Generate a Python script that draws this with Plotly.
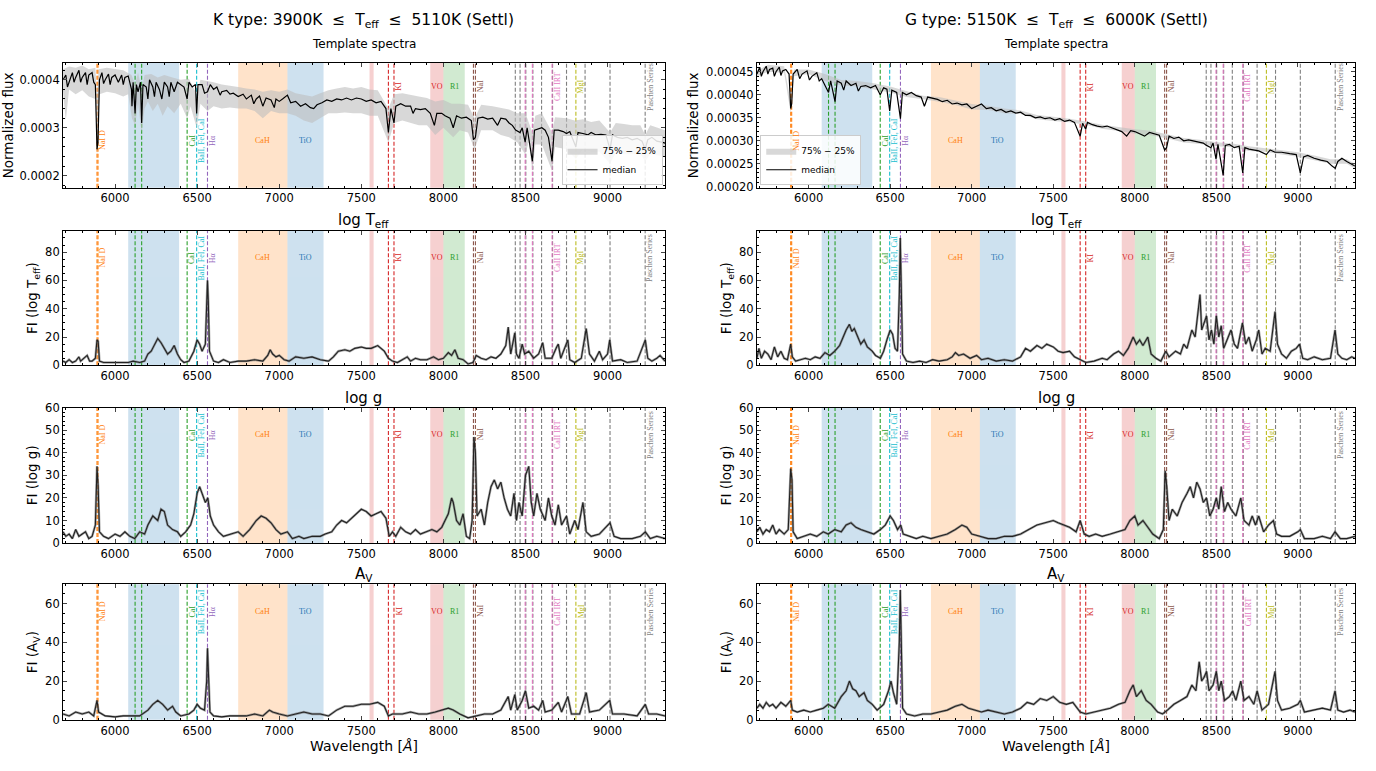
import plotly.graph_objects as go
from plotly.subplots import make_subplots

# ---------------- data (flux values in units of 1e-4) ----------------
K_MEDIAN = [(5683,4.00),(5700,4.10),(5710,3.85),(5720,3.95),(5740,4.15),(5750,3.95),(5760,4.05),(5780,4.20),
(5790,3.95),(5800,4.05),(5820,4.15),(5830,3.90),(5840,4.10),(5860,4.15),(5870,3.95),(5880,3.90),(5890,2.55),
(5896,2.70),(5905,4.00),(5920,4.15),(5930,3.92),(5940,4.00),(5960,4.12),(5970,3.90),(5980,4.05),(6000,4.10),
(6020,3.95),(6040,4.10),(6050,3.90),(6060,4.05),(6080,4.08),(6100,3.80),(6103,3.45),(6110,3.95),
(6122,3.30),(6130,3.90),(6140,3.75),(6155,3.95),(6162,3.10),(6170,3.90),(6190,3.85),(6200,3.60),(6210,4.00),
(6230,3.85),(6240,3.65),(6250,3.95),(6270,3.80),(6285,3.60),(6300,3.95),(6320,3.85),(6330,3.65),(6340,3.95),
(6360,3.75),(6380,3.95),(6400,3.90),(6420,3.85),(6439,3.60),(6450,3.95),(6470,3.85),(6490,3.90),(6497,3.30),
(6505,3.90),(6530,3.90),(6545,3.72),(6563,3.75),(6580,3.90),(6600,3.80),(6620,3.85),(6640,3.68),(6650,3.75),
(6680,3.78),(6700,3.70),(6720,3.72),(6750,3.65),(6780,3.70),(6800,3.60),(6830,3.68),(6845,3.50),(6860,3.60),
(6880,3.66),(6900,3.45),(6920,3.62),(6950,3.58),(6970,3.42),(6980,3.60),(7000,3.55),(7020,3.60),(7050,3.68),
(7070,3.52),(7100,3.55),(7130,3.45),(7160,3.50),(7190,3.42),(7210,3.40),(7230,3.48),(7260,3.52),(7290,3.58),
(7320,3.55),(7350,3.60),(7380,3.58),(7410,3.62),(7440,3.58),(7470,3.62),(7500,3.60),(7530,3.55),(7560,3.58),
(7590,3.52),(7620,3.55),(7650,3.40),(7665,2.90),(7680,3.40),(7699,3.10),(7710,3.45),(7740,3.50),(7770,3.45),
(7800,3.45),(7815,3.30),(7830,3.40),(7860,3.38),(7890,3.40),(7920,3.30),(7945,3.05),(7960,3.30),(7990,3.30),
(8010,3.25),(8040,3.20),(8060,3.00),(8080,3.25),(8110,3.20),(8140,3.22),(8170,3.15),(8183,2.75),(8195,2.80),
(8210,3.20),(8240,3.22),(8270,3.18),(8300,3.20),(8330,3.05),(8350,3.20),(8380,3.18),(8400,3.10),(8420,3.05),
(8440,2.95),(8467,2.90),(8480,3.00),(8498,2.70),(8510,3.00),(8542,2.30),(8555,2.95),(8580,2.98),(8600,3.00),
(8620,2.95),(8640,2.80),(8662,2.30),(8675,2.95),(8700,2.95),(8730,2.92),(8750,2.88),(8770,2.92),(8807,2.60),
(8820,2.90),(8850,2.88),(8880,2.85),(8900,2.90),(8930,2.85),(8960,2.86),(8990,2.85),(9015,2.55),(9030,2.85),
(9060,2.80),(9090,2.78),(9120,2.80),(9150,2.75),(9180,2.78),(9210,2.72),(9229,2.55),(9245,2.75),(9270,2.80),
(9300,2.72),(9330,2.70),(9350,2.68)]

K_Q75 = [(5683,4.22),(5720,4.28),(5760,4.25),(5800,4.30),(5840,4.22),(5880,4.25),(5890,3.60),(5900,4.22),
(5950,4.25),(6000,4.22),(6050,4.20),(6100,4.10),(6122,3.90),(6140,4.15),(6162,3.80),(6180,4.10),(6220,4.12),
(6260,4.05),(6300,4.10),(6350,4.05),(6400,4.00),(6450,4.02),(6497,3.70),(6520,4.00),(6600,3.95),(6650,3.90),
(6700,3.88),(6750,3.85),(6800,3.82),(6850,3.80),(6900,3.75),(6950,3.78),(7000,3.75),(7050,3.80),(7100,3.72),
(7150,3.68),(7200,3.65),(7250,3.72),(7300,3.78),(7350,3.82),(7400,3.85),(7450,3.82),(7500,3.85),(7550,3.80),
(7600,3.78),(7665,3.40),(7700,3.70),(7750,3.72),(7800,3.68),(7850,3.65),(7900,3.62),(7950,3.55),(8000,3.58),
(8050,3.50),(8100,3.50),(8150,3.48),(8190,3.20),(8230,3.48),(8300,3.45),(8350,3.42),(8400,3.38),(8450,3.30),
(8500,3.30),(8542,2.90),(8560,3.25),(8600,3.30),(8662,2.90),(8680,3.22),(8750,3.20),(8800,3.15),(8850,3.18),
(8900,3.12),(8950,3.15),(9015,2.90),(9050,3.10),(9100,3.08),(9150,3.05),(9200,3.05),(9229,2.85),(9260,3.05),
(9300,3.00),(9350,2.95)]

K_Q25 = [(5683,3.75),(5700,3.15),(5720,3.80),(5760,3.70),(5800,3.78),(5840,3.65),(5880,3.60),(5890,2.40),
(5905,3.70),(5950,3.75),(6000,3.72),(6050,3.65),(6080,3.70),(6103,3.20),(6122,3.05),(6140,3.50),(6162,2.90),
(6180,3.40),(6200,3.55),(6230,3.35),(6260,3.50),(6290,3.25),(6320,3.45),(6360,3.30),(6400,3.50),(6439,3.20),
(6460,3.45),(6497,3.00),(6520,3.50),(6563,3.35),(6600,3.45),(6650,3.40),(6700,3.42),(6750,3.40),(6800,3.40),
(6850,3.35),(6900,3.20),(6950,3.35),(7000,3.30),(7050,3.30),(7100,3.25),(7150,3.15),(7200,3.10),(7250,3.20),
(7300,3.30),(7350,3.30),(7400,3.32),(7450,3.30),(7500,3.30),(7550,3.25),(7600,3.25),(7665,2.70),(7700,3.10),
(7750,3.15),(7800,3.10),(7850,3.05),(7900,3.05),(7950,2.85),(8000,3.00),(8060,2.80),(8100,2.95),(8150,2.90),
(8190,2.55),(8230,2.95),(8300,2.95),(8350,2.85),(8400,2.80),(8450,2.70),(8498,2.45),(8520,2.70),(8542,2.10),
(8560,2.65),(8600,2.65),(8662,2.10),(8680,2.60),(8750,2.55),(8807,2.35),(8850,2.55),(8900,2.50),(8950,2.50),
(9015,2.25),(9050,2.48),(9100,2.45),(9150,2.45),(9200,2.45),(9229,2.30),(9260,2.45),(9300,2.42),(9350,2.40)]

G_MEDIAN = [(5683,4.45),(5700,4.60),(5710,4.40),(5720,4.50),(5740,4.62),(5750,4.45),(5760,4.55),(5780,4.58),
(5790,4.40),(5800,4.50),(5820,4.60),(5830,4.42),(5840,4.52),(5860,4.55),(5880,4.45),(5890,3.70),(5896,3.80),
(5905,4.45),(5930,4.55),(5945,4.35),(5960,4.45),(5990,4.52),(6005,4.32),(6020,4.40),(6050,4.48),(6065,4.30),
(6080,4.35),(6103,4.20),(6122,4.05),(6135,4.30),(6162,3.85),(6175,4.30),(6200,4.25),(6215,4.10),(6230,4.30),
(6260,4.20),(6290,4.25),(6305,4.08),(6320,4.18),(6350,4.20),(6380,4.15),(6410,4.20),(6439,4.00),(6460,4.15),
(6480,4.12),(6497,3.65),(6510,4.10),(6540,4.05),(6563,3.48),(6575,4.05),(6600,4.00),(6630,4.05),(6660,3.98),
(6690,3.95),(6710,3.75),(6730,3.95),(6760,3.92),(6790,3.90),(6820,3.85),(6850,3.88),(6880,3.80),(6910,3.82),
(6940,3.78),(6970,3.80),(7000,3.70),(7030,3.75),(7060,3.80),(7090,3.70),(7120,3.72),(7150,3.65),(7180,3.68),
(7210,3.62),(7240,3.65),(7270,3.60),(7300,3.62),(7330,3.55),(7360,3.55),(7390,3.50),(7420,3.52),(7450,3.48),
(7480,3.50),(7510,3.45),(7540,3.48),(7570,3.42),(7600,3.45),(7630,3.40),(7665,3.10),(7680,3.38),(7699,3.25),
(7710,3.40),(7740,3.35),(7770,3.32),(7800,3.30),(7830,3.32),(7860,3.28),(7890,3.25),(7920,3.20),(7950,3.10),
(7975,3.22),(8000,3.20),(8030,3.15),(8060,3.10),(8090,3.18),(8120,3.15),(8150,3.12),(8183,2.80),(8195,2.85),
(8210,3.10),(8240,3.05),(8270,3.08),(8300,3.00),(8330,3.02),(8360,3.00),(8390,2.98),(8420,2.95),(8440,2.90),
(8467,2.85),(8480,2.95),(8498,2.60),(8510,2.92),(8542,2.25),(8555,2.90),(8580,2.92),(8610,2.85),(8640,2.88),
(8662,2.30),(8675,2.85),(8700,2.82),(8730,2.80),(8760,2.78),(8807,2.70),(8830,2.80),(8860,2.75),(8900,2.75),
(8950,2.72),(8990,2.70),(9015,2.30),(9035,2.65),(9060,2.68),(9100,2.62),(9140,2.58),(9180,2.55),(9210,2.45),
(9229,2.40),(9245,2.55),(9270,2.62),(9300,2.55),(9330,2.50),(9350,2.45)]

G_Q75 = [(5683,4.52),(5750,4.65),(5850,4.62),(5890,3.85),(5910,4.55),(6000,4.55),(6100,4.45),(6200,4.32),
(6300,4.30),(6400,4.25),(6500,4.18),(6600,4.08),(6700,3.98),(6800,3.95),(6900,3.88),(7000,3.80),(7100,3.76),
(7200,3.70),(7300,3.66),(7400,3.56),(7500,3.52),(7600,3.48),(7700,3.42),(7800,3.35),(7900,3.30),(8000,3.25),
(8100,3.22),(8200,3.14),(8300,3.06),(8400,3.02),(8500,2.97),(8600,2.94),(8700,2.88),(8800,2.84),(8900,2.80),
(9000,2.75),(9100,2.68),(9200,2.60),(9300,2.60),(9350,2.50)]

G_Q25 = [(5683,4.40),(5750,4.50),(5850,4.48),(5890,3.60),(5910,4.40),(6000,4.45),(6100,4.30),(6200,4.20),
(6300,4.18),(6400,4.12),(6500,4.05),(6600,3.95),(6700,3.90),(6800,3.85),(6900,3.78),(7000,3.68),(7100,3.67),
(7200,3.60),(7300,3.58),(7400,3.47),(7500,3.43),(7600,3.40),(7700,3.35),(7800,3.26),(7900,3.21),(8000,3.15),
(8100,3.12),(8200,3.05),(8300,2.96),(8400,2.93),(8500,2.88),(8600,2.86),(8700,2.78),(8800,2.76),(8900,2.70),
(9000,2.65),(9100,2.58),(9200,2.50),(9300,2.50),(9350,2.40)]

K_FI_TEFF = [(5683,3),(5700,2),(5720,4),(5740,2),(5760,3),(5780,6),(5790,3),(5810,5),(5830,7),(5845,3),(5860,3),
(5880,5),(5890,18),(5897,17),(5905,3),(5930,2),(5960,2),(6000,1.5),(6040,2),(6080,2),(6110,3),(6150,2),(6180,3),
(6200,8),(6220,10),(6240,14),(6260,19),(6280,16),(6300,12),(6320,8),(6340,10),(6360,14),(6380,8),(6400,4),
(6420,2),(6450,3),(6480,10),(6500,18),(6515,15),(6530,10),(6550,15),(6558,40),(6563,60),(6568,45),(6575,10),
(6600,3),(6630,2),(6660,4),(6700,2),(6750,3),(6800,3),(6850,4),(6900,3),(6930,7),(6945,11),(6960,8),(6980,6),
(7000,7),(7030,4),(7060,3),(7100,6),(7150,5),(7200,6),(7250,4),(7300,3),(7330,6),(7360,10),(7400,11),(7430,10),
(7460,12),(7500,13),(7530,12),(7560,12),(7600,14),(7640,10),(7665,5),(7690,3),(7720,2),(7750,4),(7780,6),
(7800,3),(7830,5),(7860,4),(7900,4),(7940,6),(7970,4),(8000,5),(8030,9),(8050,7),(8070,11),(8090,5),(8120,4),
(8150,1),(8180,2),(8200,7),(8230,5),(8260,4),(8290,6),(8320,5),(8350,8),(8380,14),(8395,27),(8410,8),(8425,18),
(8435,23),(8445,8),(8460,5),(8480,15),(8495,8),(8520,10),(8550,5),(8580,8),(8605,16),(8620,5),(8660,5),
(8690,13),(8700,15),(8715,5),(8740,13),(8758,18),(8770,4),(8800,2),(8840,5),(8870,26),(8890,8),(8920,3),
(8950,10),(8970,4),(9000,8),(9013,18),(9030,3),(9080,4),(9120,2),(9180,3),(9230,18),(9245,5),(9270,3),
(9300,5),(9320,7),(9350,3)]

K_FI_LOGG = [(5683,5),(5700,3),(5720,4),(5740,2),(5760,6),(5780,3),(5800,4),(5820,5),(5840,2),(5860,3),(5880,8),
(5890,34),(5897,25),(5905,5),(5930,3),(5960,2),(6000,4),(6030,3),(6060,5),(6090,3),(6120,2),(6150,5),(6180,4),
(6200,8),(6230,12),(6260,10),(6280,15),(6300,14),(6320,8),(6350,6),(6380,5),(6400,3),(6430,5),(6460,8),
(6480,13),(6500,22),(6515,25),(6530,22),(6550,18),(6565,20),(6580,12),(6600,8),(6630,5),(6660,3),(6700,4),
(6750,5),(6780,3),(6820,6),(6860,10),(6890,12),(6920,11),(6950,9),(6980,6),(7010,4),(7050,5),(7080,2),
(7120,3),(7150,2),(7200,3),(7250,3),(7280,4),(7320,5),(7350,8),(7380,10),(7410,9),(7440,11),(7470,13),
(7500,15),(7530,14),(7560,12),(7590,13),(7620,14),(7650,11),(7670,3),(7690,5),(7710,3),(7740,7),(7770,5),
(7800,4),(7830,6),(7860,4),(7900,5),(7930,6),(7960,5),(7990,7),(8010,10),(8030,13),(8050,20),(8060,18),
(8080,10),(8100,8),(8120,13),(8140,3),(8160,2),(8175,10),(8186,47),(8195,40),(8205,12),(8230,15),(8250,8),
(8270,18),(8290,25),(8310,28),(8330,24),(8350,27),(8370,20),(8390,15),(8410,12),(8430,22),(8445,10),(8460,18),
(8480,12),(8500,30),(8520,34),(8535,18),(8550,12),(8570,22),(8590,15),(8620,10),(8640,20),(8660,12),(8680,8),
(8700,17),(8720,8),(8750,12),(8770,4),(8800,10),(8820,6),(8850,18),(8870,5),(8900,3),(8950,4),(9000,8),
(9015,9),(9040,3),(9080,2),(9150,2),(9200,3),(9230,5),(9260,2),(9300,3),(9350,2)]

K_FI_AV = [(5683,3),(5720,2),(5760,4),(5800,3),(5840,4),(5870,2),(5890,10),(5900,4),(5940,2),(6000,1.5),
(6050,2),(6100,2),(6150,2),(6200,5),(6230,8),(6260,10),(6290,8),(6320,5),(6350,7),(6370,4),(6400,2),(6450,3),
(6480,5),(6500,8),(6520,6),(6545,5),(6558,20),(6563,37),(6568,25),(6578,4),(6600,2),(6650,1.5),(6700,2),
(6750,2),(6800,2),(6850,3),(6900,2),(6940,5),(6960,4),(7000,3),(7050,2),(7100,3),(7150,4),(7200,3),(7250,3),
(7300,2),(7350,5),(7400,7),(7450,7),(7500,8),(7550,8),(7600,9),(7640,7),(7665,2),(7690,3),(7750,3),(7800,4),
(7850,3),(7900,3),(7950,4),(8000,5),(8030,6),(8060,5),(8100,3),(8150,1),(8200,2),(8250,3),(8300,3),(8350,5),
(8395,12),(8410,5),(8435,13),(8450,5),(8480,10),(8500,15),(8520,6),(8550,7),(8580,5),(8605,10),(8620,4),
(8660,5),(8700,9),(8720,4),(8758,12),(8780,3),(8830,3),(8870,14),(8890,4),(8950,5),(9013,10),(9030,3),
(9100,3),(9180,2),(9230,8),(9250,3),(9300,3),(9350,2)]

G_FI_TEFF = [(5683,5),(5695,12),(5710,5),(5730,10),(5750,8),(5770,4),(5790,13),(5810,6),(5830,10),(5850,5),
(5870,4),(5890,15),(5900,6),(5920,3),(5950,4),(5980,5),(6010,4),(6040,6),(6070,5),(6100,9),(6130,7),(6160,10),
(6190,14),(6210,20),(6230,25),(6250,29),(6265,24),(6280,26),(6300,20),(6320,15),(6340,18),(6360,13),(6390,10),
(6410,7),(6440,5),(6460,10),(6480,18),(6500,25),(6515,22),(6530,12),(6545,10),(6556,50),(6562,90),(6568,60),
(6576,8),(6600,3),(6640,2),(6680,3),(6720,2),(6760,4),(6800,3),(6850,4),(6880,6),(6900,9),(6920,7),(6950,8),
(6990,5),(7030,7),(7060,4),(7100,5),(7150,3),(7200,4),(7250,3),(7300,6),(7330,12),(7360,10),(7400,14),
(7430,12),(7460,15),(7500,13),(7530,10),(7560,9),(7600,10),(7630,6),(7665,4),(7700,2),(7750,3),(7800,5),
(7830,4),(7870,8),(7900,10),(7930,7),(7960,12),(7990,20),(8010,15),(8030,18),(8050,14),(8080,20),(8100,8),
(8130,5),(8160,3),(8190,10),(8210,6),(8250,10),(8280,8),(8300,15),(8320,12),(8350,25),(8370,20),(8385,35),
(8400,50),(8410,25),(8425,30),(8440,35),(8455,18),(8470,25),(8485,15),(8500,35),(8515,20),(8530,28),(8545,12),
(8570,20),(8590,25),(8610,15),(8630,12),(8660,30),(8680,15),(8700,20),(8720,10),(8745,18),(8760,25),(8780,8),
(8800,12),(8830,10),(8860,38),(8875,15),(8900,8),(8930,5),(8960,10),(8990,12),(9010,15),(9030,5),(9060,4),
(9100,6),(9150,4),(9200,5),(9228,25),(9245,8),(9270,5),(9300,4),(9330,6),(9350,5)]

G_FI_LOGG = [(5683,5),(5700,7),(5720,4),(5740,6),(5760,5),(5780,8),(5800,4),(5820,6),(5850,4),(5875,6),(5890,33),
(5898,28),(5905,5),(5930,2),(5970,3),(6010,4),(6050,3),(6090,5),(6120,4),(6160,6),(6200,5),(6230,8),(6260,9),
(6290,7),(6320,6),(6360,5),(6400,4),(6440,6),(6470,8),(6500,12),(6520,10),(6545,6),(6565,8),(6580,4),(6620,3),
(6660,2),(6700,3),(6750,2),(6800,3),(6850,4),(6900,6),(6940,8),(6970,7),(7000,4),(7050,3),(7100,2),(7150,2),
(7200,3),(7250,3),(7300,4),(7350,6),(7400,8),(7450,9),(7500,10),(7530,9),(7570,8),(7600,7),(7640,5),(7665,10),
(7690,4),(7720,3),(7760,4),(7800,3),(7850,4),(7900,5),(7940,6),(7970,10),(8000,12),(8020,8),(8050,10),(8080,7),
(8110,4),(8150,2),(8175,6),(8186,32),(8196,25),(8210,10),(8230,15),(8260,12),(8290,18),(8320,22),(8340,25),
(8360,20),(8380,27),(8400,24),(8420,18),(8440,20),(8460,12),(8480,15),(8500,20),(8515,15),(8530,25),(8550,14),
(8570,18),(8590,15),(8620,12),(8650,20),(8670,10),(8700,8),(8720,12),(8740,8),(8760,12),(8790,5),(8820,8),
(8850,10),(8870,4),(8900,3),(8950,3),(9000,5),(9015,6),(9040,2),(9100,2),(9150,3),(9200,2),(9228,5),(9260,2),
(9300,2),(9350,3)]

G_FI_AV = [(5683,6),(5700,8),(5720,6),(5740,9),(5760,7),(5780,8),(5800,6),(5830,9),(5860,7),(5890,10),(5900,5),
(5930,4),(5970,5),(6010,4),(6050,5),(6090,6),(6120,8),(6160,6),(6200,12),(6230,15),(6250,20),(6270,16),
(6290,15),(6310,12),(6340,14),(6360,10),(6390,8),(6420,5),(6460,8),(6490,15),(6505,20),(6520,14),(6540,8),
(6556,40),(6562,67),(6568,45),(6576,6),(6600,3),(6650,2),(6700,3),(6750,3),(6800,4),(6850,5),(6900,7),
(6940,8),(6980,6),(7020,5),(7060,4),(7100,5),(7150,4),(7200,3),(7250,4),(7300,6),(7340,9),(7380,8),(7420,11),
(7460,10),(7500,12),(7540,9),(7580,8),(7620,9),(7665,4),(7700,3),(7750,4),(7800,5),(7850,6),(7900,8),(7940,9),
(7970,15),(7990,18),(8010,12),(8040,15),(8070,10),(8100,8),(8140,4),(8170,3),(8200,5),(8240,8),(8280,10),
(8320,12),(8350,18),(8375,15),(8395,30),(8410,20),(8425,22),(8440,25),(8455,15),(8480,18),(8500,25),(8515,15),
(8530,20),(8550,10),(8580,12),(8600,15),(8620,10),(8650,20),(8670,10),(8700,12),(8730,8),(8750,15),(8780,5),
(8820,8),(8860,25),(8875,10),(8900,5),(8950,6),(9000,8),(9015,10),(9040,4),(9100,5),(9150,6),(9200,5),
(9228,15),(9245,5),(9280,4),(9320,5),(9350,4)]

# spectral features
BANDS = [(6080, 6390, "rgba(31,119,180,0.22)"), (6750, 7050, "rgba(255,127,14,0.22)"),
         (7050, 7270, "rgba(31,119,180,0.22)"), (7550, 7575, "rgba(214,39,40,0.22)"),
         (7920, 8000, "rgba(214,39,40,0.22)"), (8000, 8130, "rgba(44,160,44,0.22)")]
LINES = [(5890, "#ff7f0e"), (5896, "#ff7f0e"), (6122, "#2ca02c"), (6162, "#2ca02c"), (6439, "#2ca02c"),
         (6497, "#17becf"), (6563, "#9467bd"), (7665, "#d62728"), (7699, "#d62728"),
         (8183, "#8c564b"), (8195, "#8c564b"),
         (8438, "#7f7f7f"), (8467, "#7f7f7f"), (8502, "#7f7f7f"), (8545, "#7f7f7f"), (8598, "#7f7f7f"),
         (8665, "#7f7f7f"), (8750, "#7f7f7f"), (8863, "#7f7f7f"), (9015, "#7f7f7f"), (9229, "#7f7f7f"),
         (8498, "#e377c2"), (8542, "#e377c2"), (8662, "#e377c2"), (8807, "#bcbd22")]
# (x, text, colour, rotated, group)  group: 0 = lower group in template panel, 1 = upper group
LABELS = [(5925, "NaI D", "#ff7f0e", True, 0), (6470, "CaI", "#2ca02c", True, 0),
          (6528, "BaII, FeI, CaI", "#17becf", True, 0), (6594, "Hα", "#9467bd", True, 0),
          (6900, "CaH", "#ff7f0e", False, 0), (7160, "TiO", "#1f77b4", False, 0),
          (7730, "KI", "#d62728", True, 1), (7960, "VO", "#d62728", False, 1),
          (8065, "R1", "#2ca02c", False, 1), (8226, "NaI", "#8c564b", True, 1),
          (8694, "CaII IRT", "#e377c2", True, 1), (8838, "MgI", "#bcbd22", True, 1),
          (9260, "Paschen Series", "#7f7f7f", True, 1)]

XRANGE = [5683, 9350]


def unz(pairs, scale=1.0):
    return [p[0] for p in pairs], [p[1] * scale for p in pairs]


fig = make_subplots(rows=4, cols=2)
XDOM = [(0.0458, 0.4833), (0.5501, 0.9847)]
YDOM = [(0.7613, 0.926), (0.5266, 0.7043), (0.2918, 0.4708), (0.0584, 0.2374)]

FONT = "DejaVu Sans, Liberation Sans, sans-serif"
SERIF = "Liberation Serif, DejaVu Serif, serif"

# ---- template spectra ----
for col, (med, q75, q25, leg) in enumerate([(K_MEDIAN, K_Q75, K_Q25, "legend"),
                                            (G_MEDIAN, G_Q75, G_Q25, "legend2")], start=1):
    ux, uy = unz(q75, 1e-4)
    lx, ly = unz(q25, 1e-4)
    fig.add_trace(go.Scatter(x=ux + lx[::-1], y=uy + ly[::-1], fill="toself",
                             fillcolor="rgba(190,190,190,0.6)", line=dict(width=0),
                             mode="lines", name="75% − 25%", legend=leg, hoverinfo="skip"),
                  row=1, col=col)
    mx, my = unz(med, 1e-4)
    fig.add_trace(go.Scatter(x=mx, y=my, mode="lines", line=dict(color="black", width=1.2),
                             name="median", legend=leg), row=1, col=col)

# ---- feature importance ----
FI = [(K_FI_TEFF, G_FI_TEFF), (K_FI_LOGG, G_FI_LOGG), (K_FI_AV, G_FI_AV)]
for r, pair in enumerate(FI, start=2):
    for c, series in enumerate(pair, start=1):
        x, y = unz(series)
        fig.add_trace(go.Scatter(x=x, y=y, mode="lines", line=dict(color="#666666", width=2.4),
                                 opacity=0.6, showlegend=False, hoverinfo="skip"), row=r, col=c)
        fig.add_trace(go.Scatter(x=x, y=y, mode="lines", line=dict(color="#222222", width=1.1),
                                 showlegend=False), row=r, col=c)

YR = {1: ([1.75e-4, 4.35e-4], [1.98e-4, 4.69e-4]), 2: ([0, 95], [0, 95]),
      3: ([0, 60], [0, 60]), 4: ([0, 70], [0, 70])}
YDT = {1: ((1e-4, 2e-5, ".4f"), (5e-5, 1e-5, ".5f")), 2: ((20, 5, "d"),) * 2,
       3: ((10, 2, "d"),) * 2, 4: ((20, 5, "d"),) * 2}
YT = {1: "Normalized flux", 2: "FI (log T<sub>eff</sub>)", 3: "FI (log g)", 4: "FI (A<sub>V</sub>)"}

for r in range(1, 5):
    for c in range(1, 3):
        idx = (r - 1) * 2 + c
        xa = "x" if idx == 1 else f"x{idx}"
        ya = "y" if idx == 1 else f"y{idx}"
        xkw = dict(domain=XDOM[c - 1], range=XRANGE, tick0=6000, dtick=500,
                   ticks="inside", ticklen=4, tickwidth=1, mirror="allticks",
                   showline=True, linecolor="black", linewidth=1, showgrid=False,
                   zeroline=False, tickfont=dict(size=11.5, color="black", family=FONT),
                   minor=dict(ticks="inside", ticklen=2, tick0=6000, dtick=100, tickcolor="black"))
        if r == 4:
            xkw["title"] = dict(text="Wavelength [<i>Å</i>]",
                                font=dict(size=14, family=FONT, color="black"), standoff=4)
        fig.update_xaxes(**xkw, row=r, col=c)
        dt, mdt, fmt = YDT[r][c - 1]
        fig.update_yaxes(domain=YDOM[r - 1], range=YR[r][c - 1], dtick=dt, tickformat=fmt,
                         ticks="inside", ticklen=4, tickwidth=1, mirror="allticks",
                         showline=True, linecolor="black", linewidth=1, showgrid=False,
                         zeroline=False, tickfont=dict(size=11.5, color="black", family=FONT),
                         minor=dict(ticks="inside", ticklen=2, dtick=mdt, tickcolor="black"),
                         title=dict(text=YT[r], font=dict(size=13.5, family=FONT, color="black"),
                                    standoff=4),
                         row=r, col=c)
        for x0, x1, colr in BANDS:
            fig.add_shape(type="rect", x0=x0, x1=x1, y0=0, y1=1, xref=xa, yref=f"{ya} domain",
                          fillcolor=colr, line=dict(width=0), layer="below")
        for xv, colr in LINES:
            fig.add_shape(type="line", x0=xv, x1=xv, y0=0, y1=1, xref=xa, yref=f"{ya} domain",
                          line=dict(color=colr, width=1.1, dash="4px,2px"), layer="below")
        for xv, txt, colr, rot, grp in LABELS:
            if r == 1:
                yy = 0.38 if grp == 0 else 0.81
            else:
                yy = 0.80
            fig.add_annotation(x=xv, y=yy, xref=xa, yref=f"{ya} domain", text=txt,
                               showarrow=False, textangle=-90 if rot else 0,
                               font=dict(family=SERIF, size=8, color=colr),
                               xanchor="center", yanchor="middle")

# titles
for cx, txt in [(0.2645, "K type: 3900K  ≤  T<sub>eff</sub>  ≤  5110K (Settl)"),
                (0.7675, "G type: 5150K  ≤  T<sub>eff</sub>  ≤  6000K (Settl)")]:
    fig.add_annotation(x=cx, y=0.982, xref="paper", yref="paper", text=txt, showarrow=False,
                       font=dict(size=15.5, family=FONT, color="black"),
                       xanchor="center", yanchor="middle")
    for yy, t, sz in [(0.951, "Template spectra", 12), (0.7185, "log T<sub>eff</sub>", 15),
                      (0.4838, "log g", 15), (0.2503, "A<sub>V</sub>", 15)]:
        fig.add_annotation(x=cx, y=yy, xref="paper", yref="paper", text=t, showarrow=False,
                           font=dict(size=sz, family=FONT, color="black"),
                           xanchor="center", yanchor="middle")

fig.update_layout(
    width=1376, height=771, margin=dict(l=0, r=0, t=0, b=0),
    paper_bgcolor="white", plot_bgcolor="white", font=dict(family=FONT, color="black"),
    legend=dict(x=0.4815, y=0.7645, xanchor="right", yanchor="bottom",
                bgcolor="rgba(255,255,255,0.85)", bordercolor="#cccccc", borderwidth=1,
                font=dict(size=9), tracegroupgap=0, itemwidth=30),
    legend2=dict(x=0.5525, y=0.7645, xanchor="left", yanchor="bottom",
                 bgcolor="rgba(255,255,255,0.85)", bordercolor="#cccccc", borderwidth=1,
                 font=dict(size=9), tracegroupgap=0, itemwidth=30),
)

fig.write_html("out.html")
